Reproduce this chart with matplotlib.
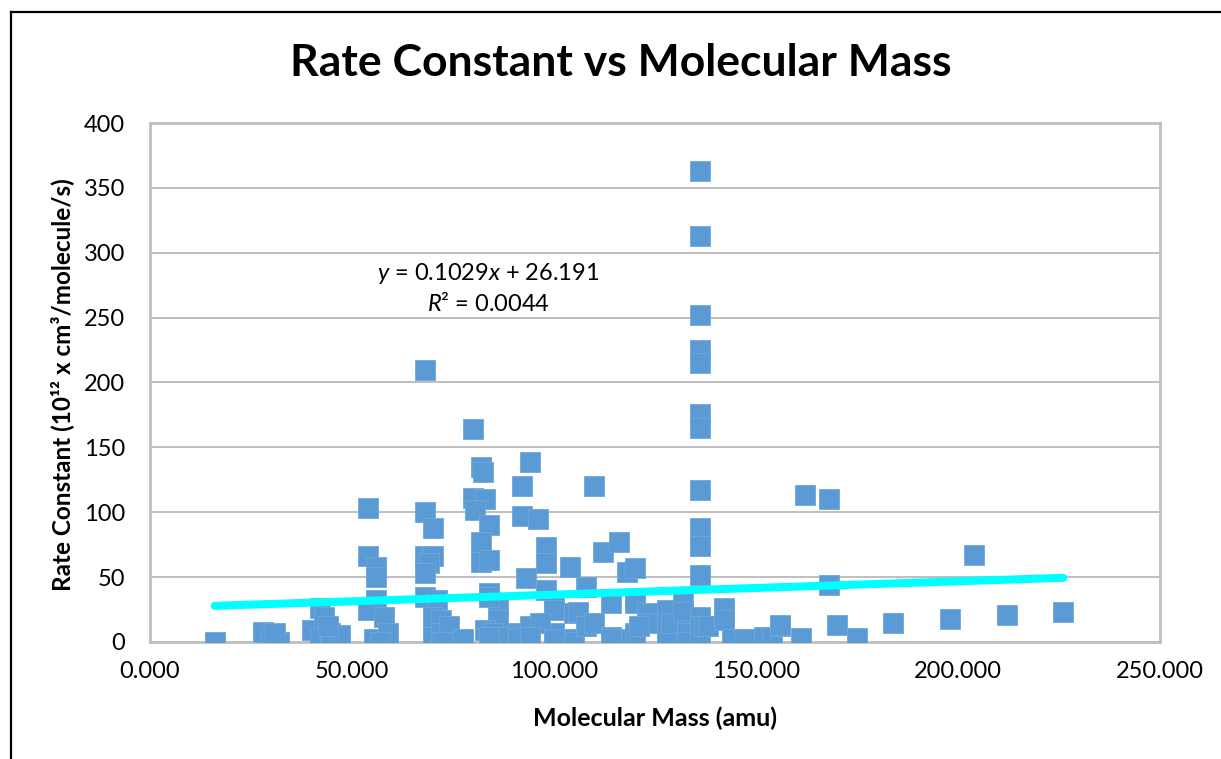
"""Rate constant vs molecular mass scatter with linear trendline."""
import numpy as np
import matplotlib
matplotlib.use('Agg')
import matplotlib.pyplot as plt
from matplotlib.lines import Line2D

plt.rcParams['font.family'] = ['Lato', 'DejaVu Sans']
plt.rcParams['mathtext.fontset'] = 'custom'
plt.rcParams['mathtext.rm'] = 'Lato'
plt.rcParams['mathtext.it'] = 'Lato:italic'

# Data (molecular mass in amu, rate constant)
mass = [16, 28, 30, 32, 31, 40, 42, 43, 42, 44.5, 47, 44,
        54, 54, 56, 56, 56, 54, 58, 55.5, 59, 57,
        68, 68, 70, 68, 70, 69, 68, 68, 71, 70, 72, 70, 72, 74, 72.5, 77.5, 77.5,
        80, 82, 82.5, 80, 83, 80.5, 84, 82, 82, 84, 84, 86, 84, 86, 83, 85, 86.6, 84,
        91, 91.5, 91, 94, 92, 92, 96, 98, 98, 93, 94, 98, 100, 100, 100, 96.5, 94, 100,
        104, 105, 106, 105, 105, 110, 112, 116, 118, 120, 108, 108, 110, 114, 114, 114,
        119, 120, 120, 120, 123, 123, 121, 128, 128, 128, 129, 132, 132, 133, 133, 133,
        136, 136, 136, 136, 136, 136, 136, 136, 136, 136, 136, 136, 136, 136,
        137, 138, 142, 142, 142, 144, 147, 152, 154, 156, 156, 161,
        162, 168, 168, 170, 175, 184, 198, 204, 212, 226]
rate = [0, 8, 3, 0, 7, 9, 26, 19, 2, 7, 5, 12,
        103, 66, 58, 50, 32, 25, 19, 2, 7, 0,
        210, 100, 88, 66, 66, 61, 53, 35, 32, 19, 17, 4, 7, 12, 0, 0, 2,
        164, 135, 131, 111, 110, 102, 90, 77, 62, 63, 38, 27, 35, 17, 9, 7, 4, 4,
        7, 4, 2, 139, 120, 97, 95, 73, 61, 49, 12, 40, 27, 25, 7, 15, 4, 2,
        58, 22, 23, 2, 0, 120, 69, 77, 54, 57, 42, 12, 15, 30, 4, 2,
        2, 32, 30, 7, 22, 15, 12, 17, 25, 4, 15, 32, 23, 9, 7, 0,
        363, 313, 252, 225, 215, 176, 165, 117, 88, 74, 52, 19, 12, 2,
        12, 12, 22, 26, 17, 2, 2, 4, 4, 12, 13, 3,
        113, 110, 44, 13, 3, 15, 18, 67, 21, 23]

# Trendline from the chart's equation label
slope = 0.1029
intercept = 26.191
r_squared = 0.0044

blue = '#5B9BD5'
grid_gray = '#BFBFBF'

fig = plt.figure(figsize=(12.21, 7.59), dpi=100)
ax = fig.add_axes([0.1229, 0.1542, 0.8272, 0.6837])

ax.plot(mass, rate, 's', ms=14.2, color=blue, mec='#6FA8DC', mew=0.6, zorder=3)

x_fit = np.array([min(mass), max(mass)])
ax.plot(x_fit, slope * x_fit + intercept, color='#00FFFF', lw=5.8,
        solid_capstyle='round', zorder=4)

ax.text(83.7, 273, f'$y$ = {slope}$x$ + {intercept}\n$R$² = {r_squared}',
        ha='center', va='center', fontsize=17, linespacing=1.3, zorder=5)

ax.set_xlim(0, 250)
ax.set_ylim(0, 400)
ax.set_xticks(np.arange(0, 251, 50))
ax.set_xticklabels([f'{v:.3f}' for v in np.arange(0, 251, 50)])
ax.set_yticks(np.arange(0, 401, 50))
ax.tick_params(axis='both', length=0, labelsize=17)
ax.tick_params(axis='y', pad=18)
ax.tick_params(axis='x', pad=14)

ax.yaxis.grid(True, color=grid_gray, lw=1.4)
ax.set_axisbelow(True)
for sp in ax.spines.values():
    sp.set_color(grid_gray)
    sp.set_linewidth(2.0)

fig.text(0.5086, 0.917, 'Rate Constant vs Molecular Mass', ha='center', va='center',
         fontsize=32, fontweight='bold')
fig.text(0.5365, 0.054, 'Molecular Mass (amu)', ha='center', va='center',
         fontsize=18, fontweight='bold')
fig.text(0.0508, 0.493, 'Rate Constant (10¹² x cm³/molecule/s)', ha='center', va='center',
         rotation=90, fontsize=17.5, fontweight='bold')

# Outer chart border (left and top edges visible)
fig.add_artist(Line2D([11 / 1221, 11 / 1221], [0, 1 - 12 / 759], color='black', lw=1.6))
fig.add_artist(Line2D([11 / 1221, 1], [1 - 12 / 759, 1 - 12 / 759], color='black', lw=1.6))

fig.savefig('out.png', dpi=100, facecolor='white')
